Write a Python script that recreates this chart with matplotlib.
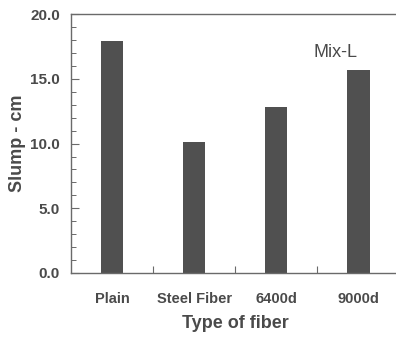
import matplotlib
matplotlib.use("Agg")
import matplotlib.pyplot as plt
from matplotlib.ticker import MultipleLocator, FixedLocator, NullFormatter

fiber_types = ["Plain", "Steel Fiber", "6400d", "9000d"]
slump_cm = [17.9, 10.1, 12.8, 15.7]
y_ticks = [0, 5, 10, 15, 20]
y_tick_labels = ["0.0", "5.0", "10.0", "15.0", "20.0"]

plt.rcParams["font.family"] = ["Liberation Sans", "DejaVu Sans"]
txt = "#4a4a4a"
line = "#6a6a6a"

fig = plt.figure(figsize=(3.96, 3.37), dpi=100)
ax = fig.add_axes([0.179, 0.19, 0.83, 0.768])

x = list(range(len(fiber_types)))
ax.bar(x, slump_cm, width=0.27, color="#505050", zorder=2)

ax.set_xlim(-0.5, 3.5)
ax.set_ylim(0, 20)

ax.set_yticks(y_ticks)
ax.set_yticklabels(y_tick_labels, fontsize=11, fontweight="bold", color=txt)
ax.yaxis.set_minor_locator(MultipleLocator(1))
ax.tick_params(axis="y", which="major", direction="in", length=6, width=0.8, color=line, pad=8)
ax.tick_params(axis="y", which="minor", direction="in", length=3.5, width=0.7, color=line)

ax.set_xticks(x)
ax.set_xticklabels(fiber_types, fontsize=10.5, fontweight="bold", color=txt)
ax.tick_params(axis="x", which="major", length=0, pad=14)
ax.xaxis.set_minor_locator(FixedLocator([0.5, 1.5, 2.5]))
ax.xaxis.set_minor_formatter(NullFormatter())
ax.tick_params(axis="x", which="minor", direction="in", length=5, width=0.8, color=line)

for s in ["left", "bottom", "top", "right"]:
    ax.spines[s].set_color(line)
    ax.spines[s].set_linewidth(1.0)

ax.set_ylabel("Slump - cm", fontsize=13, fontweight="bold", color=txt, labelpad=3)
ax.set_xlabel("Type of fiber", fontsize=13, fontweight="bold", color=txt, labelpad=6)

ax.text(2.72, 17.0, "Mix-L", fontsize=13, color=txt, ha="center", va="center")

fig.savefig("out.png", dpi=100)
